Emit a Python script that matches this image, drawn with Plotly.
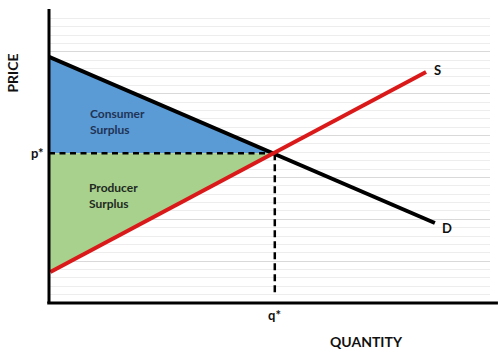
import plotly.graph_objects as go

# Data
demand_x = [0.0, 8.75]
demand_y = [29.4, 9.56]
supply_x = [0.03, 8.55]
supply_y = [3.7, 27.6]
q_star = 5.12
p_star = 17.9

consumer_x = [0.0, q_star, 0.0, 0.0]
consumer_y = [demand_y[0], p_star, p_star, demand_y[0]]
producer_x = [0.0, q_star, 0.0, 0.0]
producer_y = [p_star, p_star, supply_y[0], p_star]

FONT = "Lato"
fig = go.Figure()

fig.add_trace(go.Scatter(x=consumer_x, y=consumer_y, fill="toself", mode="none",
                         fillcolor="#5B9BD5", hoverinfo="skip"))
fig.add_trace(go.Scatter(x=producer_x, y=producer_y, fill="toself", mode="none",
                         fillcolor="#A9D18E", hoverinfo="skip"))
# dashed equilibrium guides
fig.add_trace(go.Scatter(x=[0, q_star], y=[p_star, p_star], mode="lines",
                         line=dict(color="black", width=2.5, dash="6px,4.5px")))
fig.add_trace(go.Scatter(x=[q_star, q_star], y=[p_star, 0.9], mode="lines",
                         line=dict(color="black", width=2.5, dash="7px,4px")))
# curves
fig.add_trace(go.Scatter(x=demand_x, y=demand_y, mode="lines",
                         line=dict(color="black", width=4)))
fig.add_trace(go.Scatter(x=supply_x, y=supply_y, mode="lines",
                         line=dict(color="#DA1A1A", width=4)))

fig.update_layout(
    width=500, height=352,
    margin=dict(l=49, r=10, t=10, b=49),
    paper_bgcolor="white", plot_bgcolor="white",
    showlegend=False,
    xaxis=dict(range=[0, 10], showgrid=False, zeroline=False, showticklabels=False,
               ticks="", fixedrange=True),
    yaxis=dict(range=[0, 35], dtick=5, showgrid=True, gridcolor="#D9D9D9", gridwidth=1,
               zeroline=False, showticklabels=False, ticks="",
               minor=dict(dtick=1, showgrid=True, gridcolor="#EDEDED", gridwidth=1)),
)

# axis lines
fig.add_shape(type="line", xref="paper", yref="paper", x0=0, y0=0, x1=0, y1=1.003,
              line=dict(color="black", width=3))
fig.add_shape(type="line", xref="paper", yref="paper", x0=-0.004, y0=0, x1=1.018, y1=0,
              line=dict(color="black", width=3))

def bold(s):
    return "<b>" + s + "</b>"

def note(text, size=13, color="#111", **kw):
    kw.setdefault("xanchor", "center")
    kw.setdefault("yanchor", "middle")
    fig.add_annotation(text=bold(text), showarrow=False,
                       font=dict(family=FONT, size=size, color=color), **kw)

note("PRICE", size=14, xref="paper", yref="paper", x=-0.0816, y=0.783, textangle=-90)
note("QUANTITY", size=14, xref="paper", yref="paper", x=0.721, y=-0.13)
note("p*", xref="paper", yref="y", x=-0.007, y=p_star, xanchor="right")
note("q*", xref="x", yref="paper", x=q_star, y=-0.04)
note("S", x=supply_x[1], y=supply_y[1], xshift=11, yshift=2)
note("D", x=demand_x[1], y=demand_y[1], xshift=12, yshift=-5)
note("Consumer<br>Surplus", size=12, color="#1F3355", x=0.88, y=21.7,
     xanchor="left", align="left")
note("Producer<br>Surplus", size=12, color="#1E2A1E", x=0.86, y=12.9,
     xanchor="left", align="left")

fig.write_html("out.html")
